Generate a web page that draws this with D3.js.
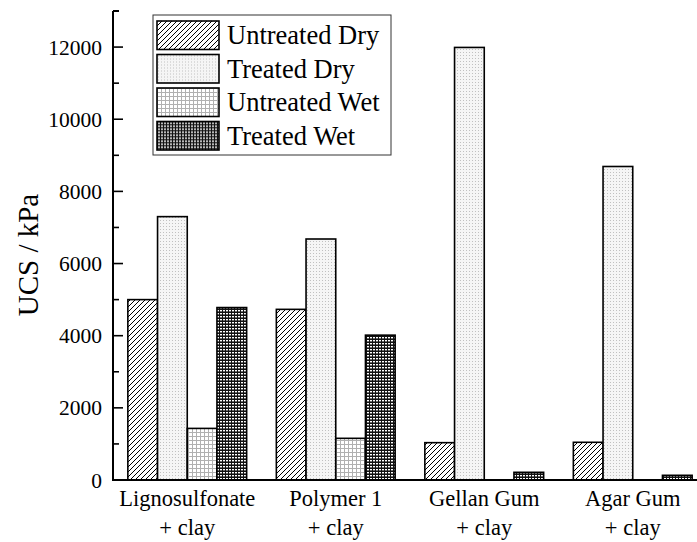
<!DOCTYPE html>
<html>
<head>
<meta charset="utf-8">
<script src="https://cdn.jsdelivr.net/npm/d3@7"></script>
<style>
  body { margin: 0; background: #fff; }
</style>
</head>
<body>
<div id="chart"></div>
<script>
// chart data
const groups = ["Lignosulfonate", "Polymer 1", "Gellan Gum", "Agar Gum"];
const groupSub = ["+ clay", "+ clay", "+ clay", "+ clay"];
const seriesNames = ["Untreated Dry", "Treated Dry", "Untreated Wet", "Treated Wet"];
const untreatedDry = [5000, 4730, 1035, 1045];
const treatedDry = [7300, 6680, 11990, 8690];
const untreatedWet = [1430, 1155, 0, 0];
const treatedWet = [4780, 4015, 213, 130];
const yTicks = [0, 2000, 4000, 6000, 8000, 10000, 12000];

const values = [untreatedDry, treatedDry, untreatedWet, treatedWet];
const patternIds = ["pUD", "pTD", "pUW", "pTW"];
const serif = "'Liberation Serif', 'Times New Roman', Tinos, 'DejaVu Serif', serif";

const width = 697, height = 542;

const svg = d3.select("#chart").append("svg")
  .attr("width", width)
  .attr("height", height)
  .attr("font-family", serif)
  .style("display", "block");

// fill patterns
const defs = svg.append("defs");

const pUD = defs.append("pattern").attr("id", "pUD")
  .attr("patternUnits", "userSpaceOnUse").attr("width", 5).attr("height", 5);
pUD.append("rect").attr("width", 5).attr("height", 5).attr("fill", "#fff");
pUD.append("path").attr("d", "M-1,6 L6,-1 M-1,1 L1,-1 M4,6 L6,4")
  .attr("stroke", "#000").attr("stroke-width", 1);

const pTD = defs.append("pattern").attr("id", "pTD")
  .attr("patternUnits", "userSpaceOnUse").attr("width", 3).attr("height", 3);
pTD.append("rect").attr("width", 3).attr("height", 3).attr("fill", "#f5f5f5");
pTD.append("rect").attr("x", 1).attr("y", 1).attr("width", 1).attr("height", 1).attr("fill", "#c0c0c0");

const pUW = defs.append("pattern").attr("id", "pUW")
  .attr("patternUnits", "userSpaceOnUse").attr("width", 4).attr("height", 4);
pUW.append("rect").attr("width", 4).attr("height", 4).attr("fill", "#fff");
pUW.append("path").attr("d", "M0,0.5 H4 M0.5,0 V4")
  .attr("stroke", "#b0b0b0").attr("stroke-width", 1);

const pTW = defs.append("pattern").attr("id", "pTW")
  .attr("patternUnits", "userSpaceOnUse").attr("width", 3).attr("height", 3);
pTW.append("rect").attr("width", 3).attr("height", 3).attr("fill", "#111");
pTW.append("rect").attr("x", 1).attr("y", 1).attr("width", 2).attr("height", 1.4).attr("fill", "#fff");

// scales
const x = d3.scaleBand()
  .domain(groups)
  .range([113, 707])
  .paddingInner(0.2)
  .paddingOuter(0.1);

const xs = d3.scaleBand()
  .domain(d3.range(seriesNames.length))
  .range([0, x.bandwidth()]);

const y = d3.scaleLinear()
  .domain([0, 13000])
  .range([480, 11]);

// bars
const barData = [];
groups.forEach((g, gi) => {
  values.forEach((vals, si) => {
    barData.push({ group: g, s: si, v: vals[gi] });
  });
});

svg.append("g").selectAll("rect")
  .data(barData.filter(d => d.v > 0))
  .join("rect")
  .attr("x", d => x(d.group) + xs(d.s))
  .attr("y", d => y(d.v))
  .attr("width", xs.bandwidth())
  .attr("height", d => y(0) - y(d.v))
  .attr("fill", d => `url(#${patternIds[d.s]})`)
  .attr("stroke", "#000")
  .attr("stroke-width", 1.6);

// y axis with inward ticks
const yAxis = svg.append("g").attr("transform", "translate(113,0)");
yAxis.append("line")
  .attr("x1", 0).attr("x2", 0)
  .attr("y1", y(13000)).attr("y2", y(0))
  .attr("stroke", "#000").attr("stroke-width", 2);
yAxis.append("line")
  .attr("x1", 0).attr("x2", 6)
  .attr("y1", y(13000)).attr("y2", y(13000))
  .attr("stroke", "#000").attr("stroke-width", 2);
yAxis.selectAll(".minor")
  .data(d3.range(1000, 13000, 2000))
  .join("line")
  .attr("x1", 0).attr("x2", 6)
  .attr("y1", d => y(d)).attr("y2", d => y(d))
  .attr("stroke", "#000").attr("stroke-width", 1.6);
yAxis.selectAll(".major")
  .data(yTicks)
  .join("line")
  .attr("x1", 0).attr("x2", 10)
  .attr("y1", d => y(d)).attr("y2", d => y(d))
  .attr("stroke", "#000").attr("stroke-width", 1.6);
yAxis.selectAll("text")
  .data(yTicks)
  .join("text")
  .attr("x", -11)
  .attr("y", d => y(d))
  .attr("dy", "0.35em")
  .attr("text-anchor", "end")
  .attr("font-size", 21.5)
  .text(d => d);

svg.append("text")
  .attr("transform", "translate(38,255) rotate(-90)")
  .attr("text-anchor", "middle")
  .attr("font-size", 29)
  .text("UCS / kPa");

// x axis
svg.append("line")
  .attr("x1", 112).attr("x2", width)
  .attr("y1", y(0)).attr("y2", y(0))
  .attr("stroke", "#000").attr("stroke-width", 2);

const xl = svg.append("g").selectAll("g")
  .data(groups)
  .join("g")
  .attr("transform", d => `translate(${x(d) + x.bandwidth() / 2},0)`);
xl.append("text")
  .attr("y", 506)
  .attr("text-anchor", "middle")
  .attr("font-size", 22.5)
  .text(d => d);
xl.append("text")
  .attr("y", 535)
  .attr("text-anchor", "middle")
  .attr("font-size", 22.5)
  .text((d, i) => groupSub[i]);

// legend
const legend = svg.append("g");
legend.append("rect")
  .attr("x", 153).attr("y", 15)
  .attr("width", 238).attr("height", 140)
  .attr("fill", "#fff")
  .attr("stroke", "#333").attr("stroke-width", 1);
const li = legend.selectAll("g.item")
  .data(seriesNames)
  .join("g")
  .attr("transform", (d, i) => `translate(157,${21 + i * 33.5})`);
li.append("rect")
  .attr("width", 62).attr("height", 28.5)
  .attr("fill", (d, i) => `url(#${patternIds[i]})`)
  .attr("stroke", "#000").attr("stroke-width", 1.6);
li.append("text")
  .attr("x", 70)
  .attr("y", 23)
  .attr("font-size", 26.5)
  .text(d => d);
</script>
</body>
</html>
